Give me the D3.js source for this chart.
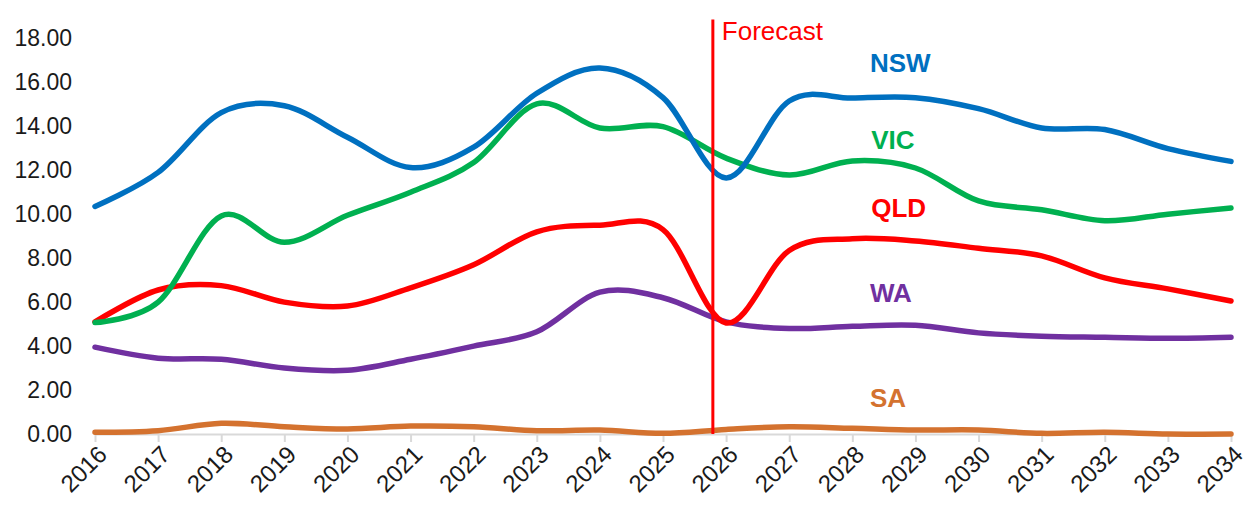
<!DOCTYPE html>
<html>
<head>
<meta charset="utf-8">
<script src="https://cdn.jsdelivr.net/npm/d3@7"></script>
<style>
  html, body { margin: 0; padding: 0; background: #ffffff; }
  svg { display: block; font-family: "Liberation Sans", Arial, Helvetica, sans-serif; }
</style>
</head>
<body>
<svg id="chart" width="1250" height="515"></svg>
<script>
// ---- data ----
const years = [2016,2017,2018,2019,2020,2021,2022,2023,2024,2025,2026,2027,2028,2029,2030,2031,2032,2033,2034];
const nsw = [10.35,11.9,14.62,14.93,13.5,12.12,13.05,15.5,16.65,15.3,11.65,15.15,15.28,15.3,14.8,13.92,13.85,12.98,12.4];
const vic = [5.07,6.0,9.92,8.72,9.95,11.0,12.35,15.02,13.92,13.98,12.55,11.78,12.42,12.1,10.6,10.2,9.7,10.0,10.28];
const qld = [5.1,6.55,6.75,6.0,5.82,6.65,7.7,9.2,9.5,9.3,5.05,8.35,8.88,8.78,8.45,8.1,7.1,6.6,6.05];
const wa  = [3.95,3.45,3.4,3.0,2.9,3.4,4.0,4.65,6.45,6.2,5.1,4.8,4.9,4.95,4.6,4.45,4.4,4.35,4.4];
const sa  = [0.08,0.15,0.49,0.33,0.23,0.36,0.33,0.15,0.18,0.03,0.21,0.33,0.26,0.18,0.18,0.03,0.08,0.0,0.0];
const seriesNames = ["NSW","VIC","QLD","WA","SA"];
const seriesColors = ["#0070C0","#00B050","#FF0000","#7030A0","#D4722F"];
const yTicks = [0,2,4,6,8,10,12,14,16,18];
// label anchor positions in data units (year, value)
const labelYears  = [2028.28,2028.3,2028.3,2028.28,2028.28];
const labelValues = [16.88,13.38,10.3,6.44,1.64];
const forecastYear = 2025.79;
const forecastTop = 18.85;
const forecastText = "Forecast";

// ---- scales ----
const svg = d3.select("#chart");
const x = d3.scaleLinear().domain([2016, 2034]).range([95, 1231]);
const y = d3.scaleLinear().domain([0, 18]).range([434, 38.3]);

const series = [nsw, vic, qld, wa, sa];

// y tick labels (no axis line)
const yAxis = d3.axisLeft(y).tickValues(yTicks).tickFormat(d3.format(".2f")).tickSize(0).tickPadding(23);
const gy = svg.append("g").attr("transform", "translate(95,0)").call(yAxis);
gy.select(".domain").remove();
gy.selectAll("text").attr("font-size", 23).attr("fill", "#1a1a1a").attr("font-family", "Liberation Sans, Arial, sans-serif");

// x axis
const xAxis = d3.axisBottom(x).tickValues(years).tickFormat(d3.format("d")).tickSize(8).tickSizeOuter(0).tickPadding(6);
const gx = svg.append("g").attr("transform", "translate(0,434)").call(xAxis);
gx.select(".domain").attr("stroke", "#d9d9d9").attr("stroke-width", 2);
gx.selectAll(".tick line").attr("stroke", "#d9d9d9").attr("stroke-width", 2);
gx.selectAll("text")
  .attr("font-size", 24)
  .attr("fill", "#1a1a1a")
  .attr("font-family", "Liberation Sans, Arial, sans-serif")
  .attr("text-anchor", "end")
  .attr("dy", "0.35em")
  .attr("transform", "translate(7,16) rotate(-45)")
  .attr("y", 0).attr("x", 0);

// lines
const line = d3.line()
  .x((d, i) => x(years[i]))
  .y(d => y(d))
  .curve(d3.curveCardinal.tension(0));

// draw order: SA, WA, QLD, VIC, NSW (NSW on top)
const drawOrder = [4,3,2,1,0];
drawOrder.forEach(k => {
  svg.append("path")
    .datum(series[k])
    .attr("d", line)
    .attr("fill", "none")
    .attr("stroke", seriesColors[k])
    .attr("stroke-width", 5.5)
    .attr("stroke-linecap", "round")
    .attr("stroke-linejoin", "round");
});

// forecast line
svg.append("line")
  .attr("x1", x(forecastYear)).attr("x2", x(forecastYear))
  .attr("y1", y(forecastTop)).attr("y2", y(0))
  .attr("stroke", "#FF0000").attr("stroke-width", 3);
svg.append("text")
  .attr("x", x(forecastYear) + 9)
  .attr("y", y(forecastTop) + 20)
  .attr("font-size", 26)
  .attr("fill", "#FF0000")
  .text(forecastText);

// series labels
seriesNames.forEach((n, k) => {
  svg.append("text")
    .attr("x", x(labelYears[k]))
    .attr("y", y(labelValues[k]))
    .attr("dy", "0.36em")
    .attr("font-size", 26)
    .attr("font-weight", "bold")
    .attr("fill", seriesColors[k])
    .text(n);
});
</script>
</body>
</html>
